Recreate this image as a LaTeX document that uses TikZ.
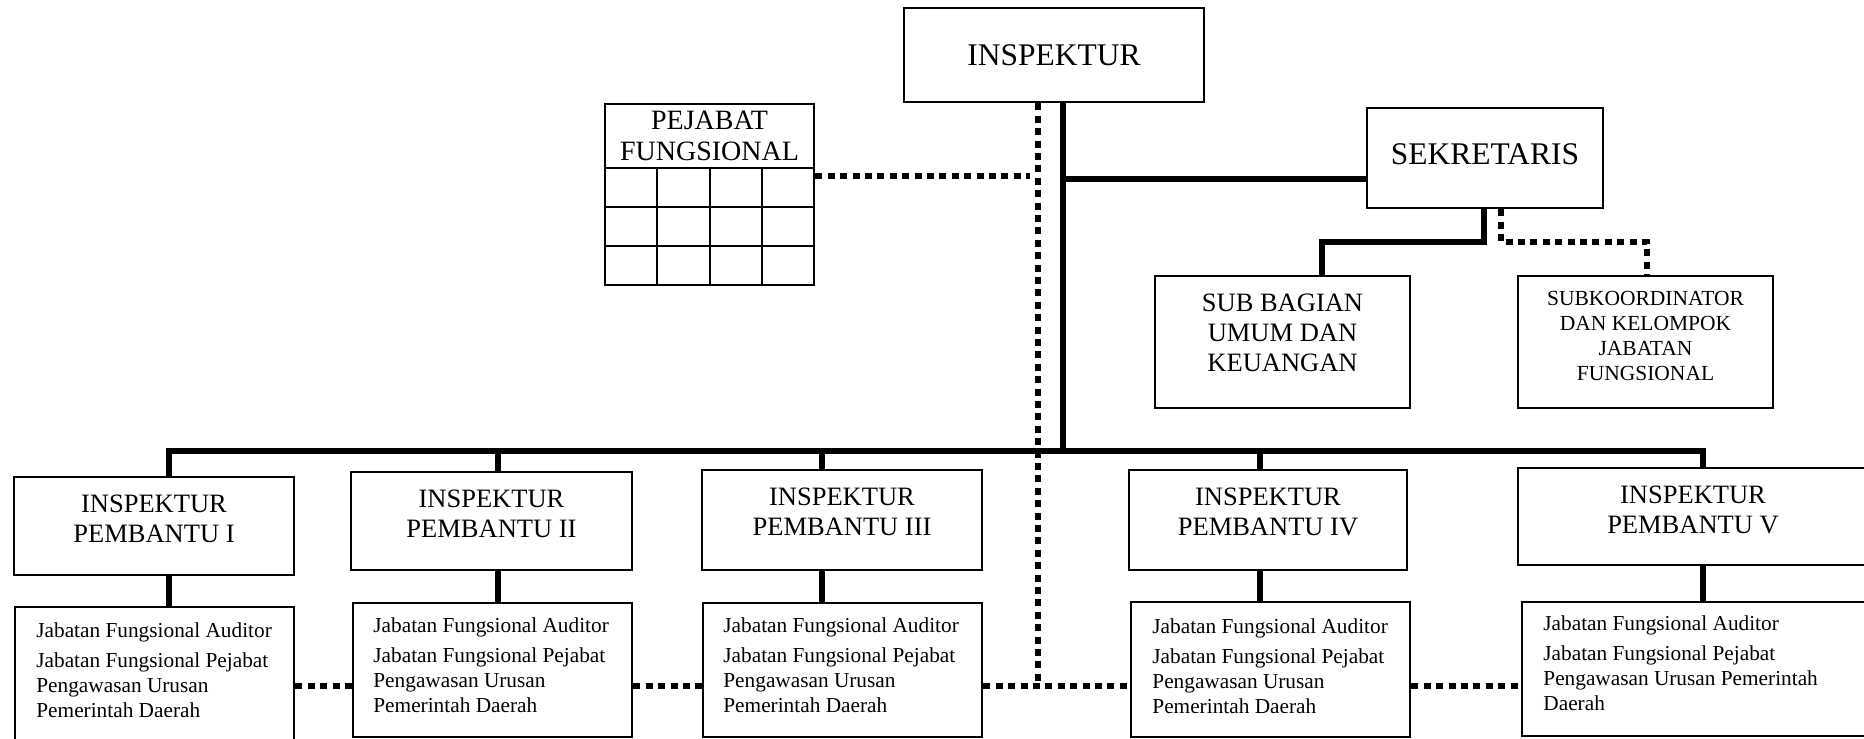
\documentclass[tikz,border=0pt]{standalone}
\usepackage{fontspec}
\setmainfont{Liberation Serif}
\usetikzlibrary{fit}
\begin{document}
\begin{tikzpicture}[x=0.5pt,y=-0.5pt]
\tikzset{
  box/.style={draw, line width=1.3pt, inner sep=0pt, rectangle},
  gridline/.style={line width=1.2pt},
  solidline/.style={line width=2.8pt},
  dotline/.style={line width=3pt, dash pattern=on 3.5pt off 2.7pt},
  lbl/.style={inner sep=0pt, align=center, anchor=base},
  iplbl/.style={lbl, font=\fontsize{13.25}{15}\selectfont},
  jflbl/.style={inner sep=0pt, align=left, anchor=base west, font=\fontsize{10.65}{12.5}\selectfont},
}
\useasboundingbox (0,0) rectangle (1864,739);
\clip (0,0) rectangle (1864,739);

% ---------- top level ----------
\node[box, fit={(904,8) (1204,102)}] (insp) {};
\node[lbl, font=\fontsize{15.75}{18}\selectfont] (inspT) at (1054,65) {INSPEKTUR};

\node[box, fit={(1367,108) (1603,208)}] (sekr) {};
\node[lbl, font=\fontsize{15.75}{18}\selectfont] (sekrT) at (1485,164) {SEKRETARIS};

\node[box, fit={(1155,276) (1410,408)}] (sub) {};
\node[lbl, font=\fontsize{13.25}{15}\selectfont] (subT) at (1282.5,371) {SUB BAGIAN\\UMUM DAN\\KEUANGAN};

\node[box, fit={(1518,276) (1773,408)}] (subk) {};
\node[lbl, font=\fontsize{10.75}{12.5}\selectfont] (subkT) at (1645.5,380) {SUBKOORDINATOR\\DAN KELOMPOK\\JABATAN\\FUNGSIONAL};

% ---------- pejabat fungsional ----------
\node[box, fit={(605,104) (814,285)}] (pej) {};
\node[lbl, font=\fontsize{14}{15.5}\selectfont] (pejT) at (709.5,160) {PEJABAT\\FUNGSIONAL};
\draw[gridline] (pej.west |- 0,168) -- (pej.east |- 0,168);
\draw[gridline] (pej.west |- 0,207) -- (pej.east |- 0,207);
\draw[gridline] (pej.west |- 0,246) -- (pej.east |- 0,246);
\draw[gridline] (657,168) -- (657,0 |- pej.south);
\draw[gridline] (710,168) -- (710,0 |- pej.south);
\draw[gridline] (762,168) -- (762,0 |- pej.south);

% ---------- inspektur pembantu ----------
\node[box, fit={(14,477) (294,575)}] (ip1) {};
\node[box, fit={(351,472) (632,570)}] (ip2) {};
\node[box, fit={(702,470) (982,570)}] (ip3) {};
\node[box, fit={(1129,470) (1407,570)}] (ip4) {};
\node[box, fit={(1518,468) (1870,565)}] (ip5) {};
\node[iplbl] (ip1T) at (154,542) {INSPEKTUR\\PEMBANTU I};
\node[iplbl] (ip2T) at (491.5,537) {INSPEKTUR\\PEMBANTU II};
\node[iplbl] (ip3T) at (842,535) {INSPEKTUR\\PEMBANTU III};
\node[iplbl] (ip4T) at (1268,535) {INSPEKTUR\\PEMBANTU IV};
\node[iplbl] (ip5T) at (1693,533) {INSPEKTUR\\PEMBANTU V};

% ---------- jabatan fungsional ----------
\node[box, fit={(15,607) (294,748)}] (jf1) {};
\node[box, fit={(353,603) (632,737)}] (jf2) {};
\node[box, fit={(703,603) (982,737)}] (jf3) {};
\node[box, fit={(1131,602) (1410,737)}] (jf4) {};
\node[box, fit={(1522,602) (1870,736)}] (jf5) {};
\node[jflbl] (jf1T) at (36,717) {Jabatan Fungsional Auditor\\[2.5pt]Jabatan Fungsional Pejabat\\Pengawasan Urusan\\Pemerintah Daerah};
\node[jflbl] (jf2T) at (373,712) {Jabatan Fungsional Auditor\\[2.5pt]Jabatan Fungsional Pejabat\\Pengawasan Urusan\\Pemerintah Daerah};
\node[jflbl] (jf3T) at (723,712) {Jabatan Fungsional Auditor\\[2.5pt]Jabatan Fungsional Pejabat\\Pengawasan Urusan\\Pemerintah Daerah};
\node[jflbl] (jf4T) at (1152,713) {Jabatan Fungsional Auditor\\[2.5pt]Jabatan Fungsional Pejabat\\Pengawasan Urusan\\Pemerintah Daerah};
\node[jflbl] (jf5T) at (1543,710) {Jabatan Fungsional Auditor\\[2.5pt]Jabatan Fungsional Pejabat\\Pengawasan Urusan Pemerintah\\Daerah};

% ---------- solid connectors ----------
\coordinate (tb) at (1063,451);
\draw[solidline] (1063,0 |- insp.south) -- (tb);
\draw[solidline] (1063,179) -- (sekr.west |- 0,179);
\draw[solidline] (1484,0 |- sekr.south) -- (1484,242) -- (1322,242) -- (1322,0 |- sub.north);
\draw[solidline] (169,0 |- ip1.north) -- (169,451) -- (1703,451) -- (1703,0 |- ip5.north);
\draw[solidline] (498,451) -- (498,0 |- ip2.north);
\draw[solidline] (822,451) -- (822,0 |- ip3.north);
\draw[solidline] (1260,451) -- (1260,0 |- ip4.north);
\draw[solidline] (169,0 |- ip1.south) -- (169,0 |- jf1.north);
\draw[solidline] (498,0 |- ip2.south) -- (498,0 |- jf2.north);
\draw[solidline] (822,0 |- ip3.south) -- (822,0 |- jf3.north);
\draw[solidline] (1260,0 |- ip4.south) -- (1260,0 |- jf4.north);
\draw[solidline] (1703,0 |- ip5.south) -- (1703,0 |- jf5.north);

% ---------- dotted connectors ----------
\coordinate (db) at (1038,686);
\draw[dotline] (1038,0 |- insp.south) -- (db);
\draw[dotline] (pej.east |- 0,176) -- (1030,176);
\draw[dotline] (1501,0 |- sekr.south) -- (1501,242) -- (1647,242) -- (1647,0 |- subk.north);
\draw[dotline] (jf1.east |- 0,686) -- (jf2.west |- 0,686);
\draw[dotline] (jf2.east |- 0,686) -- (jf3.west |- 0,686);
\draw[dotline] (jf3.east |- 0,686) -- (jf4.west |- 0,686);
\draw[dotline] (jf4.east |- 0,686) -- (jf5.west |- 0,686);
\end{tikzpicture}
\end{document}
